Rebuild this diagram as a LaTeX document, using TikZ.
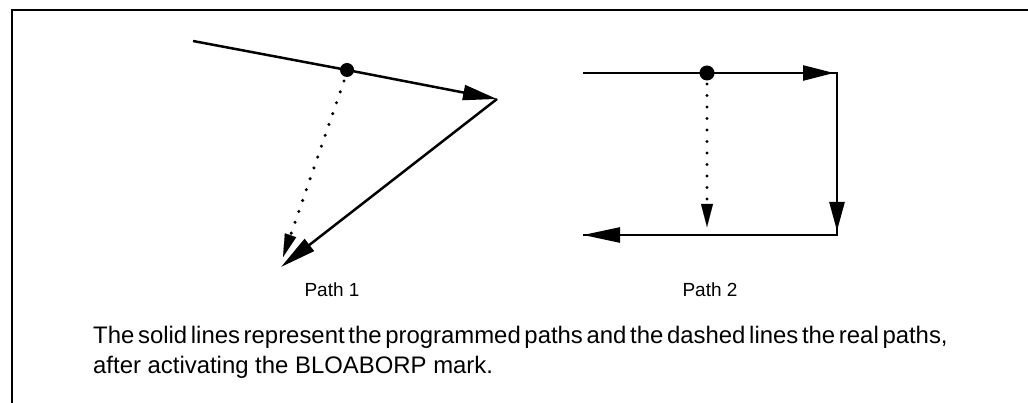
\documentclass[tikz,border=0pt]{standalone}
\usepackage{fontspec}
\setmainfont{Liberation Sans}
\usetikzlibrary{arrows.meta,calc}
\begin{document}
\begin{tikzpicture}[x=1pt,y=-1pt,
  solidline/.style={line width=2.5pt},
  dotline/.style={line width=3.4pt,dash pattern=on 0pt off 11.5pt,line cap=round},
  bigtip/.style={-{Triangle[length=#1,width=15pt]}},
  bigtip/.default=32pt,
  smalltip/.style={-{Triangle[length=23pt,width=12pt]}},
  caption/.style={font=\fontsize{19}{22}\selectfont,anchor=base},
  body/.style={font=\fontsize{23.9}{29}\selectfont,anchor=base west,inner sep=0pt}]
\useasboundingbox (0,0) rectangle (1028,403);
% frame
\draw[line width=2.8pt] (12,403) -- (12,10) -- (1028,10);
% Path 1
\coordinate (s1) at (193,41);
\coordinate (d1) at (347,70);
\coordinate (v1) at (497,99);
\coordinate (e1) at (281,267);
\coordinate (ds1) at (344,81);
\coordinate (de1) at (283,257);
\draw[solidline] (s1) -- (d1);
\draw[solidline,bigtip=34pt] (d1) -- (v1);
\draw[solidline,bigtip=36pt] (v1) -- (e1);
\draw[dotline] (ds1) -- ($(ds1)!0.88!(de1)$);
\fill (d1) circle (7pt);
\path (ds1) -- (de1) coordinate[pos=0.86] (dm1);
\draw[line width=0.1pt,smalltip] (dm1) -- (de1);
% Path 2
\coordinate (s2) at (583,73);
\coordinate (d2) at (707,73);
\coordinate (c2a) at (837,73);
\coordinate (t2a) at (834,73);
\coordinate (c2b) at (837,235);
\coordinate (t2b) at (837,231);
\coordinate (e2) at (583,235);
\coordinate (ds2) at (707,84);
\coordinate (de2) at (707,227);
\coordinate (dm2) at (707,204);
\draw[solidline] (s2) -- (c2a) -- (c2b) -- (e2);
\draw[solidline,bigtip=31pt] (d2) -- (t2a);
\draw[solidline,bigtip=29pt] (c2a) -- (t2b);
\draw[solidline,bigtip=37pt] (c2b) -- (e2);
\draw[dotline] (ds2) -- (dm2);
\draw[line width=0.1pt,smalltip] (dm2) -- (de2);
\fill (d2) circle (7.5pt);
% captions
\node[caption] (p1) at (332,297) {Path 1};
\node[caption] (p2) at (710,297) {Path 2};
\node[body] (t1) at (93,344) {\spaceskip=3.7pt The solid lines represent the programmed paths and the dashed lines the real paths,};
\node[body] (t2) at (93,373) {after activating the BLOABORP mark.};
\end{tikzpicture}
\end{document}
